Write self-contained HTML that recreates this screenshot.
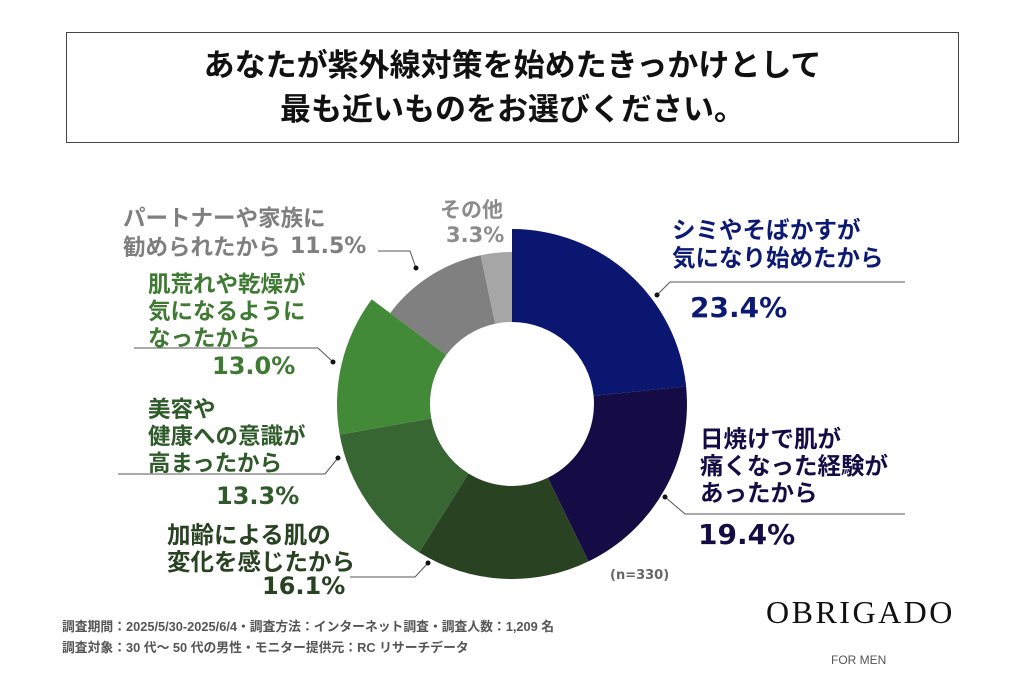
<!DOCTYPE html>
<html><head><meta charset="utf-8"><style>
body{margin:0;background:#fff;}
#wrap{position:relative;width:1024px;height:683px;overflow:hidden;font-family:"Liberation Sans","Noto Sans CJK JP",sans-serif;}
.t{position:absolute;font-weight:bold;white-space:nowrap;}
.n{font-family:"DejaVu Sans",sans-serif;}
</style></head><body>
<div id="wrap">
<div style="position:absolute;left:66px;top:32px;width:893px;height:111px;border:1.5px solid #444;box-sizing:border-box;"></div>
<div class="t" style="left:66px;top:44px;width:893px;text-align:center;font-size:31px;line-height:44px;color:#111;">あなたが紫外線対策を始めたきっかけとして<br>最も近いものをお選びください。</div>
<svg id="chart" width="1024" height="683" style="position:absolute;left:0;top:0;"></svg>
<div class="t" style="left:672px;top:216px;font-size:23.5px;line-height:28px;color:#0d1a73;">シミやそばかすが<br>気になり始めたから</div>
<div class="t n" style="left:690px;top:291px;font-size:28px;color:#0d1a73;">23.4%</div>
<div class="t" style="left:700px;top:426px;font-size:23.5px;line-height:27px;color:#150c45;">日焼けで肌が<br>痛くなった経験が<br>あったから</div>
<div class="t n" style="left:698px;top:518px;font-size:28px;color:#150c45;">19.4%</div>
<div class="t" style="left:167px;top:522px;font-size:23.5px;line-height:27px;color:#284222;">加齢による肌の<br>変化を感じたから</div>
<div class="t n" style="left:262px;top:572px;font-size:24px;color:#284222;">16.1%</div>
<div class="t" style="left:148px;top:396px;font-size:22.5px;line-height:27px;color:#2f5a2a;">美容や<br>健康への意識が<br>高まったから</div>
<div class="t n" style="left:216px;top:482px;font-size:24px;color:#2f5a2a;">13.3%</div>
<div class="t" style="left:148px;top:271px;font-size:22.5px;line-height:27px;color:#3f7a33;">肌荒れや乾燥が<br>気になるように<br>なったから</div>
<div class="t n" style="left:212px;top:352px;font-size:24px;color:#3f7a33;">13.0%</div>
<div class="t" style="left:123px;top:204px;font-size:22.5px;line-height:29px;color:#7f7f7f;">パートナーや家族に<br>勧められたから</div>
<div class="t n" style="left:290px;top:234px;font-size:22px;color:#7f7f7f;">11.5%</div>
<div class="t" style="left:440px;top:194px;font-size:21px;color:#8c8c8c;">その他</div>
<div class="t n" style="left:446px;top:223px;font-size:21px;color:#8c8c8c;">3.3%</div>
<div class="t n" style="left:610px;top:568px;font-size:13px;color:#666;">(n=330)</div>
<div class="t" style="left:62px;top:616px;font-size:12.8px;color:#555;">調査期間：2025/5/30-2025/6/4・調査方法：インターネット調査・調査人数：1,209 名</div>
<div class="t" style="left:62px;top:637px;font-size:12.8px;color:#555;">調査対象：30 代～ 50 代の男性・モニター提供元：RC リサーチデータ</div>
<div class="t" style="left:766px;top:594px;font-size:32px;font-weight:normal;font-family:'Liberation Serif',serif;color:#111;letter-spacing:2.5px;">OBRIGADO</div>
<div class="t" style="left:831px;top:653px;font-size:12px;font-weight:normal;color:#555;">FOR MEN</div>
</div>
<script>
const categories=["シミやそばかす","日焼け","加齢","美容や健康","肌荒れや乾燥","パートナーや家族","その他"];
const values=[23.4,19.4,16.1,13.3,13.0,11.5,3.3];
const colors=["#0a1670","#150c45","#284222","#386633","#438a38","#808080","#a6a6a6"];
const radii=[175,175,175,175,175,152,152];
const cx=512,cy=404,rIn=82;
const svg=document.getElementById('chart');
const NS='http://www.w3.org/2000/svg';
const total=values.reduce((a,b)=>a+b,0);
function pt(r,a){return [cx+r*Math.sin(a),cy-r*Math.cos(a)];}
let acc=0;
values.forEach((v,i)=>{
 const a0=acc/total*2*Math.PI; acc+=v; const a1=acc/total*2*Math.PI;
 const R=radii[i]; const lg=(a1-a0)>Math.PI?1:0;
 const p0=pt(R,a0),p1=pt(R,a1),q1=pt(rIn,a1),q0=pt(rIn,a0);
 const p=document.createElementNS(NS,'path');
 p.setAttribute('d',`M${p0} A${R},${R} 0 ${lg} 1 ${p1} L${q1} A${rIn},${rIn} 0 ${lg} 0 ${q0} Z`);
 p.setAttribute('fill',colors[i]);
 
 
 svg.appendChild(p);
});
const leaders=[
 [[657,295],[670,282],[905,282]],
 [[665,497],[685,514],[905,514]],
 [[428,563],[415,577],[350,577]],
 [[338,458],[325,474],[118,474]],
 [[333,362],[318,348],[134,348]],
 [[416,268],[410,251],[378,251]]
];
leaders.forEach((l,i)=>{
 const pl=document.createElementNS(NS,'polyline');
 pl.setAttribute('points',l.map(p=>p.join(',')).join(' '));
 pl.setAttribute('fill','none');pl.setAttribute('stroke','#555');pl.setAttribute('stroke-width','1');
 
 
 svg.appendChild(pl);
 const c=document.createElementNS(NS,'circle');
 c.setAttribute('cx',l[0][0]);c.setAttribute('cy',l[0][1]);c.setAttribute('r','2.5');c.setAttribute('fill','#111');
 
 
 svg.appendChild(c);
});
</script>
</body></html>
